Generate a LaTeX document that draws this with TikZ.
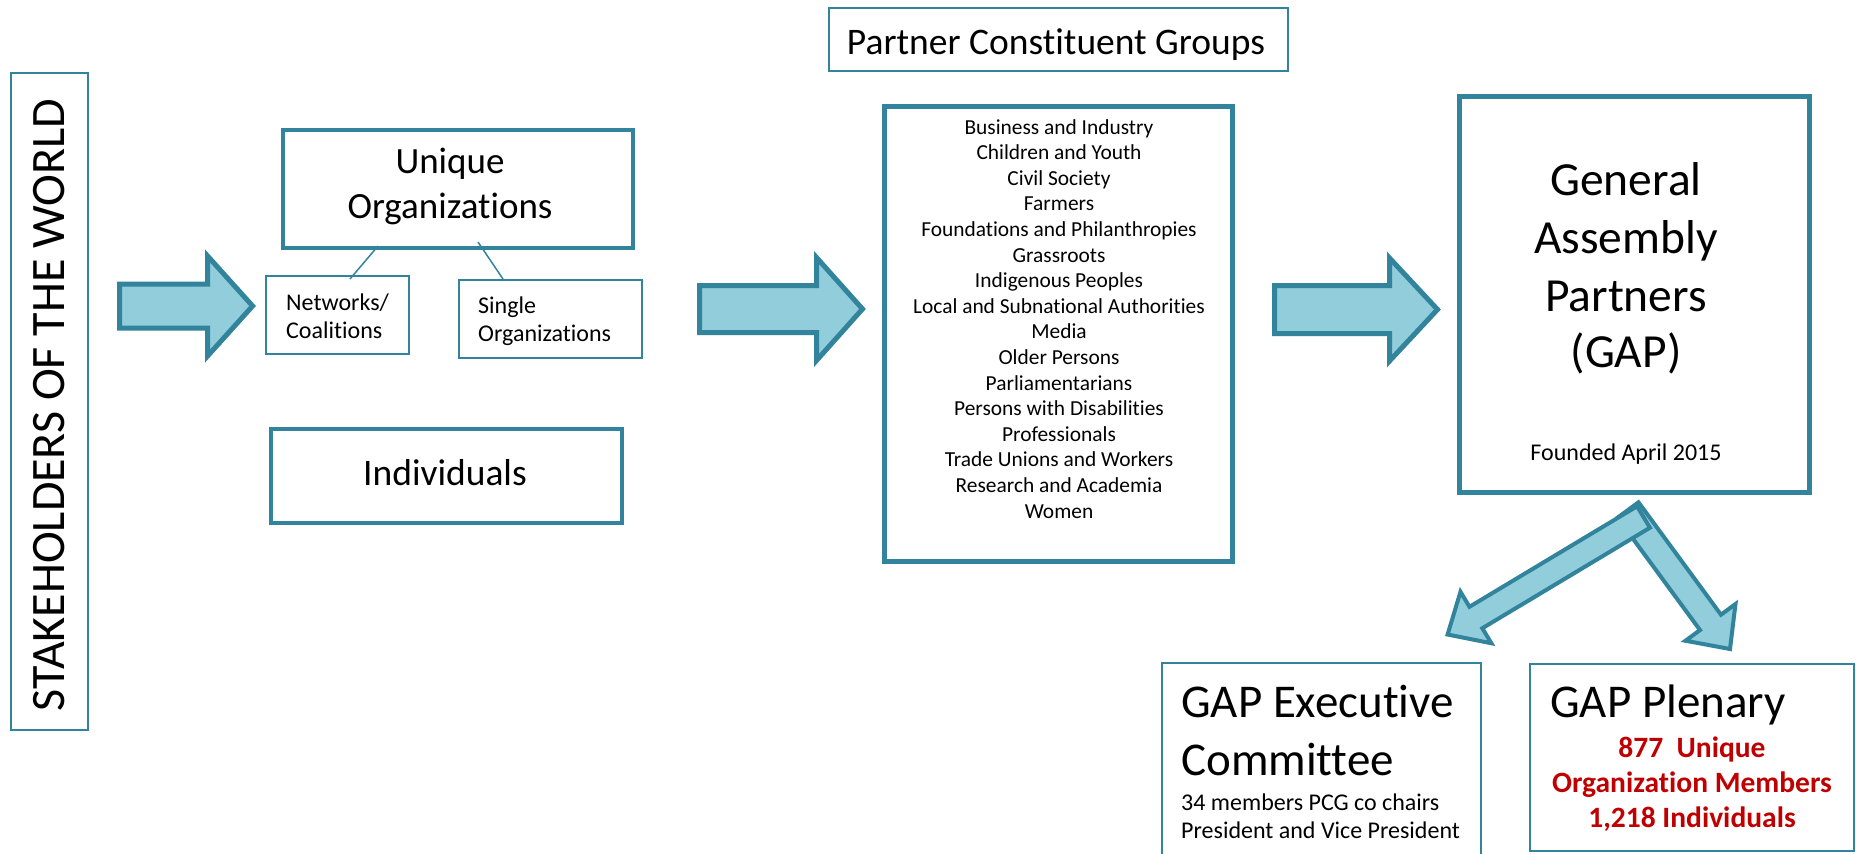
\documentclass[tikz,border=0pt]{standalone}
\usepackage{fontspec}
\setmainfont{Carlito}[Ligatures={NoCommon}]
\usetikzlibrary{calc}
\definecolor{tealb}{HTML}{31849B}
\definecolor{lblue}{HTML}{92CDDC}
\definecolor{dred}{HTML}{C00000}
\newcommand\fsz[1]{\fontsize{#1}{#1}\selectfont}
\newcommand\blockarr[5]{%
  \coordinate (baB) at ($(#2)!#5!(#1)$);
  \draw[blk] ($(#1)!#3!90:(#2)$) -- ($(baB)!#3!90:(#2)$) -- ($(baB)!#4!90:(#2)$) -- (#2)
    -- ($(baB)!#4!-90:(#2)$) -- ($(baB)!#3!-90:(#2)$) -- ($(#1)!#3!-90:(#2)$) -- cycle;}
\begin{document}
\begin{tikzpicture}[x=1pt,y=-1pt,
  thickbox/.style={draw=tealb, line width=4.5pt, inner sep=0, line join=miter},
  thinbox/.style={draw=tealb, line width=2pt, inner sep=0},
  smallbox/.style={draw=tealb, line width=1.6pt, inner sep=0},
  blk/.style={draw=tealb, fill=lblue, line width=5pt, line join=miter},
  conn/.style={draw=tealb, line width=1.5pt},
  txt/.style={inner sep=0, anchor=base},
  ltxt/.style={inner sep=0, anchor=base west},
]
\useasboundingbox (0,0) rectangle (1856,854);
\clip (0,0) rectangle (1856,854);
\fill[white] (0,0) rectangle (1856,854);

% Stakeholders
\node[thinbox, minimum width=77pt, minimum height=657pt] (sh) at (49,401) {};
\node[rotate=90, inner sep=0, font=\fsz{48}] (shtxt) at (49,405) {STAKEHOLDERS OF THE WORLD};

% Unique organizations
\node[thickbox, minimum width=350pt, minimum height=118pt] (uo) at (458,189) {};
\node[txt, font=\fsz{37}] (uo1) at (450,173) {Unique};
\node[txt, font=\fsz{37}] (uo2) at (450,218) {Organizations};

\node[smallbox, minimum width=143pt, minimum height=78pt] (nw) at (337.5,315) {};
\node[ltxt, font=\fsz{24}] (nw1) at (286,310) {Networks/};
\node[ltxt, font=\fsz{24}] (nw2) at (286,338) {Coalitions};

\node[smallbox, minimum width=183pt, minimum height=78pt] (so) at (550.5,319) {};
\node[ltxt, font=\fsz{24}] (so1) at (478,313) {Single};
\node[ltxt, font=\fsz{24}] (so2) at (478,341) {Organizations};

\coordinate (c1a) at (378,246);
\coordinate (c1b) at (350,279);
\coordinate (c2a) at (478,242);
\coordinate (c2b) at (503,279);
\draw[conn] (c1a) -- (c1b);
\draw[conn] (c2a) -- (c2b);

\node[thickbox, minimum width=351pt, minimum height=94pt] (ind) at (446.5,476) {};
\node[txt, font=\fsz{37.5}] (indt) at (445,485) {Individuals};

% PCG
\node[thinbox, minimum width=459pt, minimum height=63pt] (pcgt) at (1058.5,39.5) {};
\node[txt, font=\fsz{37.5}] (pcgtt) at (1056,54) {Partner Constituent Groups};
\node[thickbox, line width=5pt, minimum width=348pt, minimum height=455pt] (pcg) at (1058.5,334) {};
\foreach \t [count=\i] in {Business and Industry, Children and Youth, Civil Society, Farmers,
  Foundations and Philanthropies, Grassroots, Indigenous Peoples,
  Local and Subnational Authorities, Media, Older Persons, Parliamentarians,
  Persons with Disabilities, Professionals, Trade Unions and Workers,
  Research and Academia, Women}
  \node[txt, font=\fsz{21.4}] (pcg\i) at (1059,{134+25.6*(\i-1)}) {\t};

% GAP
\node[thickbox, line width=5pt, minimum width=350pt, minimum height=396pt] (gap) at (1634.5,294.5) {};
\node[txt, font=\fsz{47.5}] (g1) at (1626,195) {General};
\node[txt, font=\fsz{47.5}] (g2) at (1626,253) {Assembly};
\node[txt, font=\fsz{47.5}] (g3) at (1626,311) {Partners};
\node[txt, font=\fsz{47.5}] (g4) at (1626,367) {(GAP)};
\node[txt, font=\fsz{24}] (g5) at (1626,460) {Founded April 2015};

% Exec and Plenary
\node[thinbox, minimum width=319pt, minimum height=237pt] (exec) at (1321.5,781.5) {};
\node[ltxt, font=\fsz{47}] (e1) at (1181,717) {GAP Executive};
\node[ltxt, font=\fsz{47}] (e2) at (1181,775) {Committee};
\node[ltxt, font=\fsz{24}] (e3) at (1181,810) {34 members PCG co chairs};
\node[ltxt, font=\fsz{24}] (e4) at (1181,838) {President and Vice President};

\node[thinbox, minimum width=324pt, minimum height=187pt] (plen) at (1692,757.5) {};
\node[ltxt, font=\fsz{47}] (p1) at (1550,717) {GAP Plenary};
\node[txt, font=\fsz{29.5}\bfseries, text=dred] (p2) at (1692,757) {877\ \ Unique};
\node[txt, font=\fsz{29.5}\bfseries, text=dred] (p3) at (1692,792) {Organization Members};
\node[txt, font=\fsz{29.5}\bfseries, text=dred] (p4) at (1692,827) {1,218 Individuals};

% block arrows
\coordinate (a1t) at (119.5,306); \coordinate (a1p) at (252.6,306);
\blockarr{a1t}{a1p}{22pt}{50pt}{45pt}
\coordinate (a2t) at (699.5,309); \coordinate (a2p) at (862.5,309);
\blockarr{a2t}{a2p}{23.5pt}{51.5pt}{46pt}
\coordinate (a3t) at (1274.5,309.5); \coordinate (a3p) at (1437.5,309.5);
\blockarr{a3t}{a3p}{24pt}{51.5pt}{48pt}

\tikzset{blk/.style={draw=tealb, fill=lblue, line width=4pt, line join=miter}}
\coordinate (a5t) at (1628,510); \coordinate (a5p) at (1730,649);
\blockarr{a5t}{a5p}{13pt}{31pt}{33pt}
\coordinate (a4t) at (1643.5,517); \coordinate (a4p) at (1447.6,634.5);
\blockarr{a4t}{a4p}{12.5pt}{30pt}{33pt}
\end{tikzpicture}
\end{document}
